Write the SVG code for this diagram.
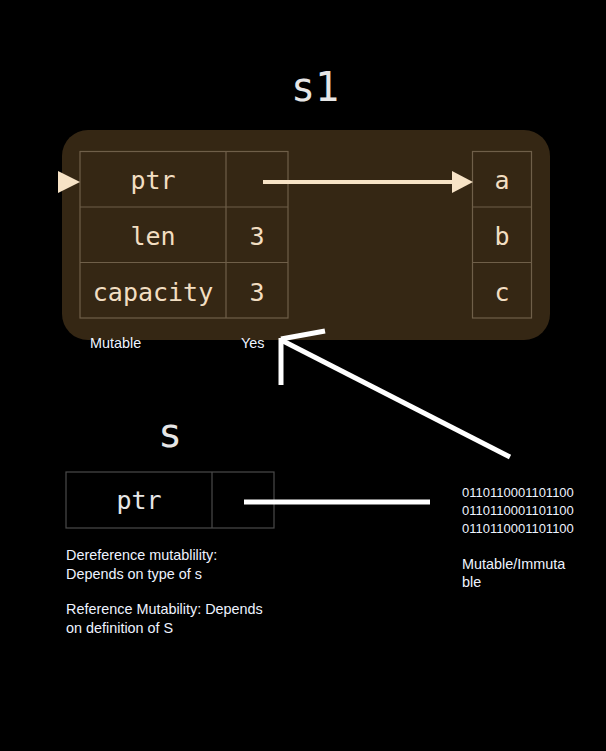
<svg xmlns="http://www.w3.org/2000/svg" width="606" height="751" viewBox="0 0 606 751">
<style>
.cell{fill:none;stroke:#6f5f49;stroke-width:1.2}
.cellg{fill:none;stroke:#4a4a4a;stroke-width:1.2}
.mono{font-family:"DejaVu Sans Mono","Liberation Mono",monospace;fill:#f2dec2;font-size:25px;text-anchor:middle}
.title{font-family:"DejaVu Sans Mono","Liberation Mono",monospace;fill:#e6e6e6;font-size:40px;text-anchor:middle}
.note{font-family:"Liberation Sans","Open Sans",sans-serif;fill:#eef3ff;font-size:14.4px}
.bits{font-family:"Liberation Sans","Open Sans",sans-serif;fill:#eef3ff;font-size:13px}
</style>
<rect width="606" height="751" fill="#000"/>
<g id="s1">
<text class="title" x="315" y="101">s1</text>
<rect x="62" y="130" width="488" height="210" rx="26" fill="#352714"/>
<rect class="cell" x="80" y="151.5" width="208" height="166.5"/>
<line class="cell" x1="226" y1="151.5" x2="226" y2="318"/>
<line class="cell" x1="80" y1="207" x2="288" y2="207"/>
<line class="cell" x1="80" y1="262.5" x2="288" y2="262.5"/>
<text class="mono" x="153" y="189">ptr</text>
<text class="mono" x="153" y="245">len</text>
<text class="mono" x="153" y="301">capacity</text>
<text class="mono" x="257" y="245">3</text>
<text class="mono" x="257" y="301">3</text>
<polygon points="58,171 80,182 58,193" fill="#f7e3c6"/>
<text class="note" x="90" y="348">Mutable</text>
<text class="note" x="241" y="348">Yes</text>
</g>
<g id="heap">
<rect class="cell" x="472.5" y="151.5" width="59" height="166.5"/>
<line class="cell" x1="472.5" y1="207" x2="531.5" y2="207"/>
<line class="cell" x1="472.5" y1="262.5" x2="531.5" y2="262.5"/>
<text class="mono" x="502" y="189">a</text>
<text class="mono" x="502" y="245">b</text>
<text class="mono" x="502" y="301">c</text>
</g>
<g id="s">
<text class="title" x="170" y="447">s</text>
<rect class="cellg" x="66" y="472" width="208" height="56"/>
<line class="cellg" x1="212" y1="472" x2="212" y2="528"/>
<text class="mono" x="139" y="509" style="fill:#e6e6e6">ptr</text>
<text class="note" x="66" y="560">Dereference mutablility:</text>
<text class="note" x="66" y="579">Depends on type of s</text>
<text class="note" x="66" y="614">Reference Mutability: Depends</text>
<text class="note" x="66" y="633">on definition of S</text>
</g>
<g id="data">
<text class="bits" x="462" y="497">0110110001101100</text>
<text class="bits" x="462" y="515">0110110001101100</text>
<text class="bits" x="462" y="533">0110110001101100</text>
<text class="note" x="462" y="569">Mutable/Immuta</text>
<text class="note" x="462" y="587">ble</text>
</g>
<g id="connectors">
<line x1="263" y1="182" x2="455" y2="182" stroke="#f7e3c6" stroke-width="4"/>
<polygon points="452,171 473,182 452,193" fill="#f7e3c6"/>
<line x1="244" y1="502" x2="430" y2="502" stroke="#fff" stroke-width="5"/>
<line x1="281" y1="338" x2="281" y2="385" stroke="#fff" stroke-width="5"/>
<line x1="281" y1="339" x2="325" y2="331" stroke="#fff" stroke-width="5"/>
<line x1="283" y1="341" x2="510" y2="457" stroke="#fff" stroke-width="5"/>
</g>
</svg>
